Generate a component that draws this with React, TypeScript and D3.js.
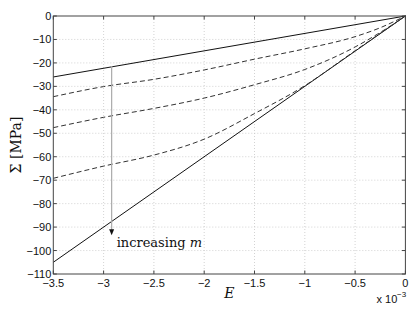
import React from "react";
import * as d3 from "d3";

const W = 417;
const H = 311;

// E values in units of 1e-3
const xTicks = [-3.5, -3, -2.5, -2, -1.5, -1, -0.5, 0];
const yTicks = [0, -10, -20, -30, -40, -50, -60, -70, -80, -90, -100, -110];

const solidUpper = [[-3.5, -26], [0, 0]];
const solidLower = [[-3.5, -105], [0, 0]];

const dashedE = [-3.5, -3, -2.5, -2, -1.5, -1, -0.5, -0.25, 0];
const dashed1 = [-34.4, -30.1, -27, -23, -18.4, -14, -8.8, -5, 0];
const dashed2 = [-47.6, -43.2, -39.4, -35, -29.3, -22.8, -13.2, -7, 0];
const dashed3 = [-69.2, -64, -59.3, -52.5, -41.6, -29.7, -14.8, -7.4, 0];

const arrowE = -2.92;
const arrowFrom = -21.3;
const arrowTo = -93.5;

export default function App() {
  const m = { l: 53.3, r: 405.4, t: 16, b: 274 };
  const x = d3.scaleLinear().domain([-3.5, 0]).range([m.l, m.r]);
  const y = d3.scaleLinear().domain([-110, 0]).range([m.b, m.t]);
  const line = d3
    .line<number[]>()
    .x((d) => x(d[0]))
    .y((d) => y(d[1]));
  const curve = d3
    .line<number[]>()
    .x((d) => x(d[0]))
    .y((d) => y(d[1]))
    .curve(d3.curveMonotoneX);
  const dashedSets = [dashed1, dashed2, dashed3].map((vals) =>
    dashedE.map((e, i) => [e, vals[i]])
  );
  const tl = 3.5;
  const sans = "'Liberation Sans', Arial, Helvetica, sans-serif";
  const serif = "'DejaVu Serif', 'Liberation Serif', serif";
  const fmt = (v: number) => (v < 0 ? "\u2212" + String(Math.abs(v)) : String(v));

  return (
    <svg
      width={W}
      height={H}
      style={{ position: "absolute", left: 0, top: 0, background: "#fff" }}
    >
      {/* grid */}
      <g stroke="#c8c8c8" strokeWidth={0.8} strokeDasharray="1,2">
        {xTicks.slice(1, -1).map((t) => (
          <line key={"gx" + t} x1={x(t)} x2={x(t)} y1={m.t} y2={m.b} />
        ))}
        {yTicks.slice(1, -1).map((t) => (
          <line key={"gy" + t} x1={m.l} x2={m.r} y1={y(t)} y2={y(t)} />
        ))}
      </g>
      {/* data */}
      <g fill="none">
        <path d={line(solidUpper as number[][]) || ""} stroke="#111" strokeWidth={1} />
        <path d={line(solidLower as number[][]) || ""} stroke="#111" strokeWidth={1} />
        {dashedSets.map((s, i) => (
          <path
            key={i}
            d={curve(s) || ""}
            stroke="#333"
            strokeWidth={1}
            strokeDasharray="5,3"
          />
        ))}
      </g>
      {/* arrow */}
      <line
        x1={x(arrowE)}
        x2={x(arrowE)}
        y1={y(arrowFrom)}
        y2={y(arrowTo) - 5}
        stroke="#aaa"
        strokeWidth={1.2}
      />
      <path
        d={`M${x(arrowE) - 2.5},${y(arrowTo) - 6} L${x(arrowE) + 2.5},${y(arrowTo) - 6} L${x(arrowE)},${y(arrowTo)} Z`}
        fill="#111"
      />
      <text
        x={x(arrowE) + 5}
        y={y(arrowTo) + 11.5}
        fontFamily={serif}
        fontSize={13}
        fill="#111"
      >
        increasing <tspan fontStyle="italic">m</tspan>
      </text>
      {/* axes box */}
      <rect
        x={m.l}
        y={m.t}
        width={m.r - m.l}
        height={m.b - m.t}
        fill="none"
        stroke="#444"
        strokeWidth={1}
      />
      {/* ticks */}
      <g stroke="#444" strokeWidth={1}>
        {xTicks.map((t) => (
          <g key={"tx" + t}>
            <line x1={x(t)} x2={x(t)} y1={m.b} y2={m.b - tl} />
            <line x1={x(t)} x2={x(t)} y1={m.t} y2={m.t + tl} />
          </g>
        ))}
        {yTicks.map((t) => (
          <g key={"ty" + t}>
            <line x1={m.l} x2={m.l + tl} y1={y(t)} y2={y(t)} />
            <line x1={m.r} x2={m.r - tl} y1={y(t)} y2={y(t)} />
          </g>
        ))}
      </g>
      {/* tick labels */}
      <g fontFamily={sans} fontSize={11} fill="#111">
        {xTicks.map((t) => (
          <text key={"lx" + t} x={x(t)} y={m.b + 12.5} textAnchor="middle">
            {fmt(t)}
          </text>
        ))}
        {yTicks.map((t) => (
          <text
            key={"ly" + t}
            x={m.l - 2}
            y={y(t) + 4}
            textAnchor="end"
          >
            {fmt(t)}
          </text>
        ))}
        <text x={376.5} y={302.7} fontSize={11}>
          x 10
        </text>
        <text x={397} y={296.5} fontSize={8}>
          {"\u22123"}
        </text>
      </g>
      {/* axis labels */}
      <text
        x={(m.l + m.r) / 2}
        y={298}
        textAnchor="middle"
        fontFamily={serif}
        fontStyle="italic"
        fontSize={14}
        fill="#111"
      >
        E
      </text>
      <text
        transform={`translate(21,${(m.t + m.b) / 2}) rotate(-90)`}
        textAnchor="middle"
        fontFamily={serif}
        fontSize={14}
        fill="#111"
      >
        Σ [MPa]
      </text>
    </svg>
  );
}
